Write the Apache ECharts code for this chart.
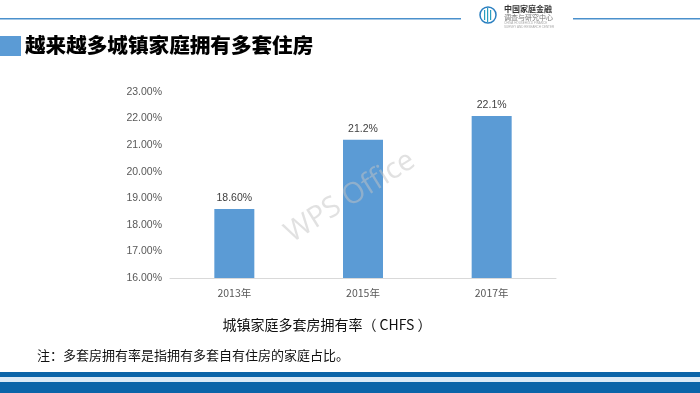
<!DOCTYPE html>
<html>
<head>
<meta charset="utf-8">
<script src="https://cdn.jsdelivr.net/npm/echarts@6/dist/echarts.min.js"></script>
<style>
html,body{margin:0;padding:0;background:#fff;}
#c{width:700px;height:393px;}
</style>
</head>
<body>
<div id="c"></div>
<script>
const categories = ['2013年', '2015年', '2017年'];
const values = [18.6, 21.2, 22.1];
const valueLabels = ['18.60%', '21.2%', '22.1%'];
const yTicks = [16, 17, 18, 19, 20, 21, 22, 23];

const chart = echarts.init(document.getElementById('c'), null, {renderer: 'canvas'});
const cjk = '"Noto Sans CJK SC", sans-serif';

chart.setOption({
  backgroundColor: '#ffffff',
  animation: false,
  grid: {left: 170, right: 144, top: 92, bottom: 115},
  xAxis: {
    type: 'category',
    data: categories,
    axisLine: {show: true, lineStyle: {color: '#d9d9d9', width: 1}},
    axisTick: {show: false},
    axisLabel: {color: '#595959', fontSize: 10.5, fontFamily: cjk, margin: 10}
  },
  yAxis: {
    type: 'value',
    min: yTicks[0],
    max: yTicks[yTicks.length - 1],
    interval: 1,
    splitLine: {show: false},
    axisLine: {show: false},
    axisTick: {show: false},
    axisLabel: {color: '#595959', fontSize: 10.5, fontFamily: '"Liberation Sans", sans-serif', margin: 8,
      formatter: v => v.toFixed(2) + '%'}
  },
  series: [{
    type: 'bar',
    data: values,
    barWidth: 40,
    itemStyle: {color: '#5b9bd5'},
    label: {
      show: true, position: 'top', distance: 5,
      color: '#404040', fontSize: 10.5, fontFamily: '"Liberation Sans", sans-serif',
      formatter: p => valueLabels[p.dataIndex]
    }
  }],
  graphic: [
    // header lines
    {type: 'rect', shape: {x: 0, y: 18, width: 461, height: 1.5}, style: {fill: '#4a90cc'}},
    {type: 'rect', shape: {x: 573, y: 18, width: 127, height: 1.5}, style: {fill: '#4a90cc'}},
    // logo
    {type: 'circle', shape: {cx: 488, cy: 15, r: 8}, style: {fill: 'none', stroke: '#2a7fc0', lineWidth: 1.5}},
    {type: 'rect', shape: {x: 484, y: 10, width: 1.2, height: 10}, style: {fill: '#2a9fc0'}},
    {type: 'rect', shape: {x: 487, y: 8, width: 1.2, height: 14}, style: {fill: '#2a9fc0'}},
    {type: 'rect', shape: {x: 490, y: 10, width: 1.2, height: 10}, style: {fill: '#2a9fc0'}},
    {type: 'text', left: 504, top: 5, style: {text: '中国家庭金融', fill: '#333', font: 'bold 8px ' + cjk}},
    {type: 'text', left: 504, top: 14, style: {text: '调查与研究中心', fill: '#777', font: '7px ' + cjk}},
    {type: 'text', left: 504, top: 22, style: {text: 'CHINA HOUSEHOLD FINANCE', fill: '#aaa', font: '3px sans-serif'}},
    {type: 'text', left: 504, top: 26, style: {text: 'SURVEY AND RESEARCH CENTER', fill: '#aaa', font: '3px sans-serif'}},
    // title
    {type: 'rect', shape: {x: 0, y: 36, width: 21, height: 20}, style: {fill: '#5b9bd5'}},
    {type: 'text', left: 25, top: 35, style: {text: '越来越多城镇家庭拥有多套住房', fill: '#000', font: '900 20.6px ' + cjk}},
    // watermark
    {type: 'text', x: 350, y: 197, z: 100, rotation: Math.PI * 32 / 180, style: {text: 'WPS Office', fill: 'rgba(195,195,195,0.5)', font: '29px "Open Sans", sans-serif', align: 'center', verticalAlign: 'middle'}},
    // axis title
    {type: 'text', x: 327, y: 325, style: {text: '城镇家庭多套房拥有率（ CHFS ）', fill: '#111', font: '14px ' + cjk, align: 'center', verticalAlign: 'middle'}},
    // note
    {type: 'text', left: 37, top: 349, style: {text: '注：多套房拥有率是指拥有多套自有住房的家庭占比。', fill: '#111', font: '13px ' + cjk}},
    // bottom bands
    {type: 'rect', shape: {x: 0, y: 372, width: 700, height: 5}, style: {fill: '#0b64a8'}},
    {type: 'rect', shape: {x: 0, y: 377, width: 700, height: 5}, style: {fill: '#dbe9f5'}},
    {type: 'rect', shape: {x: 0, y: 382, width: 700, height: 11}, style: {fill: '#0b64a8'}}
  ]
});
</script>
</body>
</html>
